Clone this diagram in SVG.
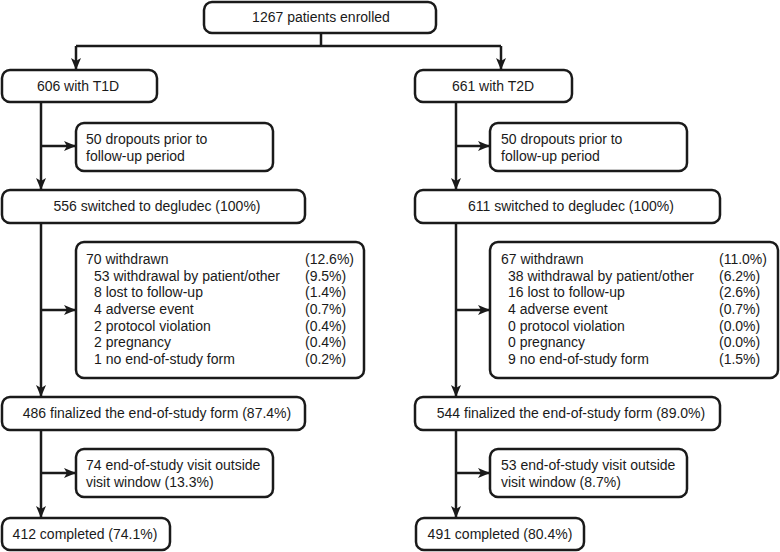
<svg xmlns="http://www.w3.org/2000/svg" width="780" height="552" viewBox="0 0 780 552">
<style>
.box{fill:#fff;stroke:#1a1a1a;stroke-width:2.5}
.ln{fill:none;stroke:#1a1a1a;stroke-width:2.5}
text{font-family:"Liberation Sans",Arial,sans-serif;font-size:14px;fill:#1a1a1a}
.c{text-anchor:middle}
</style>
<defs>
<marker id="ah" markerUnits="userSpaceOnUse" markerWidth="12" markerHeight="10" refX="12" refY="5" orient="auto">
<path d="M0,0 L12,5 L0,10 L3,5 z" fill="#1a1a1a"/>
</marker>
</defs>
<rect width="780" height="552" fill="#fff"/>
<g id="connectors">
<path class="ln" d="M321,33 V46 M76,46 H501"/>
<path class="ln" d="M76,46 V70" marker-end="url(#ah)"/>
<path class="ln" d="M501,46 V70" marker-end="url(#ah)"/>
<path class="ln" d="M41,102 V190" marker-end="url(#ah)"/>
<path class="ln" d="M41,146 H76" marker-end="url(#ah)"/>
<path class="ln" d="M41,223 V397" marker-end="url(#ah)"/>
<path class="ln" d="M41,310 H76" marker-end="url(#ah)"/>
<path class="ln" d="M41,430 V518" marker-end="url(#ah)"/>
<path class="ln" d="M41,473 H76" marker-end="url(#ah)"/>
<path class="ln" d="M456,102 V190" marker-end="url(#ah)"/>
<path class="ln" d="M456,146 H490" marker-end="url(#ah)"/>
<path class="ln" d="M456,223 V397" marker-end="url(#ah)"/>
<path class="ln" d="M456,310 H490" marker-end="url(#ah)"/>
<path class="ln" d="M456,430 V518" marker-end="url(#ah)"/>
<path class="ln" d="M456,473 H490" marker-end="url(#ah)"/>
</g>
<g id="enrolled"><rect class="box" x="204" y="2" width="232" height="31" rx="8"/><text class="c" x="321" y="22">1267 patients enrolled</text></g>
<g id="t1d"><rect class="box" x="2" y="70" width="155" height="32" rx="8"/><text class="c" x="78" y="91">606 with T1D</text></g>
<g id="t2d"><rect class="box" x="415" y="70" width="157" height="32" rx="8"/><text class="c" x="493" y="91">661 with T2D</text></g>
<g id="drop1"><rect class="box" x="76" y="123" width="197" height="48" rx="8"/><text x="86" y="144">50 dropouts prior to</text><text x="86" y="161">follow-up period</text></g>
<g id="drop2"><rect class="box" x="490" y="123" width="197" height="48" rx="8"/><text x="501" y="144">50 dropouts prior to</text><text x="501" y="161">follow-up period</text></g>
<g id="sw1"><rect class="box" x="2" y="190" width="303" height="33" rx="8"/><text class="c" x="157" y="211">556 switched to degludec (100%)</text></g>
<g id="sw2"><rect class="box" x="415" y="190" width="305" height="33" rx="8"/><text class="c" x="571" y="211">611 switched to degludec (100%)</text></g>
<g id="wd1"><rect class="box" x="76" y="242" width="288" height="136" rx="8"/>
<text x="86" y="264">70 withdrawn</text><text x="305" y="264">(12.6%)</text>
<text x="94" y="280.7">53 withdrawal by patient/other</text><text x="305" y="280.7">(9.5%)</text>
<text x="94" y="297.3">8 lost to follow-up</text><text x="305" y="297.3">(1.4%)</text>
<text x="94" y="314">4 adverse event</text><text x="305" y="314">(0.7%)</text>
<text x="94" y="330.7">2 protocol violation</text><text x="305" y="330.7">(0.4%)</text>
<text x="94" y="347.3">2 pregnancy</text><text x="305" y="347.3">(0.4%)</text>
<text x="94" y="364">1 no end-of-study form</text><text x="305" y="364">(0.2%)</text>
</g>
<g id="wd2"><rect class="box" x="490" y="242" width="288" height="136" rx="8"/>
<text x="501" y="264">67 withdrawn</text><text x="719" y="264">(11.0%)</text>
<text x="508" y="280.7">38 withdrawal by patient/other</text><text x="719" y="280.7">(6.2%)</text>
<text x="508" y="297.3">16 lost to follow-up</text><text x="719" y="297.3">(2.6%)</text>
<text x="508" y="314">4 adverse event</text><text x="719" y="314">(0.7%)</text>
<text x="508" y="330.7">0 protocol violation</text><text x="719" y="330.7">(0.0%)</text>
<text x="508" y="347.3">0 pregnancy</text><text x="719" y="347.3">(0.0%)</text>
<text x="508" y="364">9 no end-of-study form</text><text x="719" y="364">(1.5%)</text>
</g>
<g id="fin1"><rect class="box" x="2" y="397" width="303" height="33" rx="8"/><text class="c" x="157" y="418">486 finalized the end-of-study form (87.4%)</text></g>
<g id="fin2"><rect class="box" x="415" y="397" width="305" height="33" rx="8"/><text class="c" x="571" y="418">544 finalized the end-of-study form (89.0%)</text></g>
<g id="vw1"><rect class="box" x="76" y="449" width="197" height="48" rx="8"/><text x="86" y="470">74 end-of-study visit outside</text><text x="86" y="487">visit window (13.3%)</text></g>
<g id="vw2"><rect class="box" x="490" y="449" width="197" height="48" rx="8"/><text x="501" y="470">53 end-of-study visit outside</text><text x="501" y="487">visit window (8.7%)</text></g>
<g id="comp1"><rect class="box" x="2" y="518" width="168" height="32" rx="8"/><text class="c" x="85" y="539">412 completed (74.1%)</text></g>
<g id="comp2"><rect class="box" x="416" y="518" width="168" height="32" rx="8"/><text class="c" x="500" y="539">491 completed (80.4%)</text></g>
</svg>
